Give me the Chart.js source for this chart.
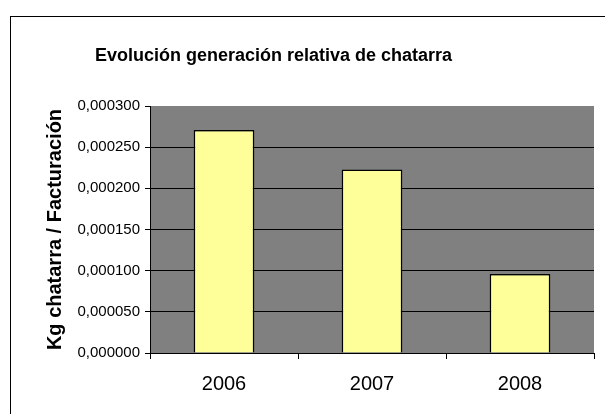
<!DOCTYPE html>
<html lang="es">
  <head>
    <meta charset="UTF-8" />
    <title>Evolución generación relativa de chatarra</title>
    <style>
      html, body { margin: 0; background: #fff; overflow: hidden; width: 605px; height: 414px; }
      .marco {
        position: absolute;
        left: 10px; top: 16px; width: 600px; height: 400px;
        border-left: 1px solid #000;
        border-top: 1px solid #000;
      }
      #grafico { position: absolute; left: 0; top: 0; }
    </style>
  </head>
  <body>
    <div class="marco"></div>
    <canvas id="grafico" width="605" height="414"></canvas>

    <script src="https://cdn.jsdelivr.net/npm/chart.js"></script>
    <script>
      // datos
      const anios = ["2006", "2007", "2008"];
      const kgPorFacturacion = [0.000271, 0.000223, 0.000096];
      const valoresEje = [0, 0.00005, 0.0001, 0.00015, 0.0002, 0.00025, 0.0003];

      Chart.defaults.font.family = "'Liberation Sans', Arial, sans-serif";
      Chart.defaults.color = "#000";

      // fondo gris del area de trazado
      const fondoGris = {
        id: "fondoGris",
        beforeDraw(chart) {
          const a = chart.chartArea;
          const ctx = chart.ctx;
          ctx.save();
          ctx.fillStyle = "#808080";
          ctx.fillRect(a.left, a.top, a.right - a.left, a.bottom - a.top);
          ctx.restore();
        },
        // el titulo no esta centrado sobre todo el lienzo
        afterLayout(chart) {
          if (chart.titleBlock) {
            chart.titleBlock.left = 0;
            chart.titleBlock.right = 547;
          }
        }
      };

      const data = {
        labels: anios,
        datasets: [
          {
            label: "Kg chatarra / Facturación",
            data: kgPorFacturacion,
            backgroundColor: "#FFFF99",
            borderColor: "#000",
            borderWidth: 1.5,
            barPercentage: 0.41,
            categoryPercentage: 1
          }
        ]
      };

      const config = {
        type: "bar",
        data,
        plugins: [fondoGris],
        options: {
          responsive: false,
          animation: false,
          layout: { padding: { left: 0, right: 11, top: 0, bottom: 0 } },
          plugins: {
            legend: { display: false },
            tooltip: { enabled: false },
            title: {
              display: true,
              text: "Evolución generación relativa de chatarra",
              font: { size: 18, weight: "bold" },
              color: "#000",
              padding: { top: 45, bottom: 39.4 }
            }
          },
          scales: {
            x: {
              afterFit(escala) { escala.height = 61; },
              grid: {
                offset: true,
                drawOnChartArea: false,
                drawTicks: true,
                tickLength: 6,
                color: "#000"
              },
              border: { color: "#000", width: 1 },
              ticks: { font: { size: 20 }, color: "#000", padding: 13 }
            },
            y: {
              min: 0,
              max: 0.0003,
              afterFit(escala) { escala.width = 150; },
              afterBuildTicks(escala) {
                escala.ticks = valoresEje.map((v) => ({ value: v }));
              },
              grid: {
                color: (c) => (c.tick && c.tick.value > 0.00029 ? "rgba(0,0,0,0)" : "#000"),
                tickColor: "#000",
                tickLength: 5,
                lineWidth: 1
              },
              border: { color: "#000", width: 1 },
              ticks: {
                font: { size: 15 },
                color: "#000",
                padding: 5,
                callback: (v) => Number(v).toFixed(6).replace(".", ",")
              },
              title: {
                display: true,
                text: "Kg chatarra / Facturación",
                font: { size: 20, weight: "bold" },
                color: "#000",
                padding: { top: 43, bottom: 0 }
              }
            }
          }
        }
      };

      var miGrafico = new Chart(document.getElementById("grafico"), config);
    </script>
  </body>
</html>
